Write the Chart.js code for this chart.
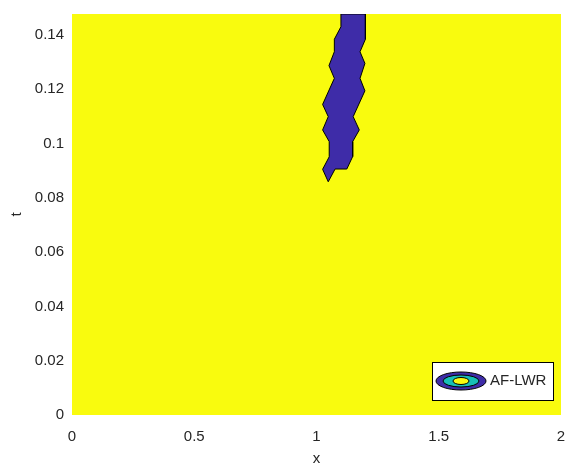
<!DOCTYPE html>
<html>
<head>
<meta charset="utf-8">
<script src="https://cdn.jsdelivr.net/npm/chart.js@4.4.1/dist/chart.umd.min.js"></script>
<style>
  html, body { margin: 0; padding: 0; background: #fff; }
</style>
</head>
<body>
<canvas id="chart" width="580" height="470"></canvas>
<script>
// axis ranges and ticks
const xTicks = [0, 0.5, 1, 1.5, 2]
const tTicks = [0, 0.02, 0.04, 0.06, 0.08, 0.1, 0.12, 0.14]
const xMax = 2
const tMax = 0.1477

// lower contour level (fills the whole domain)
const baseX = [0, 2]
const baseT = [0.1477, 0.1477]

// upper contour level, outline traced clockwise from the top
const bandX = [1.1, 1.2, 1.2, 1.178, 1.198, 1.178, 1.198, 1.15, 1.175, 1.148, 1.148, 1.124, 1.076, 1.048,
  1.025, 1.052, 1.052, 1.025, 1.048, 1.025, 1.073, 1.051, 1.073, 1.073, 1.1, 1.1]
const bandT = [0.1477, 0.1477, 0.1384, 0.1338, 0.1295, 0.124, 0.1194, 0.1099, 0.105, 0.1007, 0.0952, 0.0906, 0.0906, 0.0859,
  0.0905, 0.0951, 0.1007, 0.105, 0.1099, 0.1144, 0.124, 0.1287, 0.1338, 0.1384, 0.143, 0.1477]

const seriesName = "AF-LWR"

const FONT = "'Liberation Sans', Arial, Helvetica, sans-serif"
const TEXT = "#262626"
const YELLOW = "#f9fb0e"
const BLUE = "#3e2ca8"
const CYAN = "#17bfb6"

// legend box drawn inside the plot area (bottom right)
const contourLegend = {
  id: "contourLegend",
  afterDatasetsDraw(chart) {
    const { ctx, chartArea } = chart
    const w = 121, h = 38
    const x = chartArea.right - 8 - w
    const y = chartArea.bottom - 15 - h
    ctx.save()
    ctx.fillStyle = "#fff"
    ctx.fillRect(x, y, w, h)
    ctx.strokeStyle = "#000"
    ctx.lineWidth = 1
    ctx.strokeRect(x + 0.5, y + 0.5, w, h)

    const cx = x + 29, cy = y + 19
    const rings = [[25, 9, BLUE], [18, 6, CYAN], [8, 3.5, YELLOW]]
    rings.forEach(([rx, ry, col]) => {
      ctx.beginPath()
      ctx.ellipse(cx, cy, rx, ry, 0, 0, Math.PI * 2)
      ctx.fillStyle = col
      ctx.fill()
      ctx.strokeStyle = "#000"
      ctx.stroke()
    })

    ctx.fillStyle = TEXT
    ctx.font = "15px " + FONT
    ctx.textBaseline = "middle"
    ctx.fillText(chart.data.datasets[1].label, x + 58, cy)
    ctx.restore()
  }
}

new Chart(document.getElementById("chart"), {
  type: "scatter",
  data: {
    datasets: [
      {
        label: "level 1",
        data: baseX.map((x, i) => ({ x, y: baseT[i] })),
        order: 2,
        showLine: true,
        borderWidth: 0,
        borderColor: YELLOW,
        backgroundColor: YELLOW,
        pointRadius: 0,
        fill: "origin"
      },
      {
        label: seriesName,
        data: bandX.map((x, i) => ({ x, y: bandT[i] })),
        order: 1,
        showLine: true,
        borderWidth: 1,
        borderColor: "#000",
        backgroundColor: BLUE,
        pointRadius: 0,
        tension: 0,
        fill: "shape"
      }
    ]
  },
  options: {
    responsive: false,
    animation: false,
    devicePixelRatio: 1,
    layout: {
      padding: { left: 0, top: 14, right: 19, bottom: 0 }
    },
    plugins: {
      legend: { display: false },
      tooltip: { enabled: false }
    },
    scales: {
      x: {
        type: "linear",
        min: 0,
        max: xMax,
        grid: { display: false, drawTicks: false },
        border: { display: false },
        afterBuildTicks: s => { s.ticks = xTicks.map(v => ({ value: v })) },
        afterFit: s => { s.height = 55; s.paddingLeft = 0; s.paddingRight = 0 },
        ticks: {
          color: TEXT,
          padding: 13,
          font: { family: FONT, size: 15 },
          callback: v => String(v)
        },
        title: {
          display: true,
          text: "x",
          color: TEXT,
          padding: 2,
          font: { family: FONT, size: 15 }
        }
      },
      y: {
        type: "linear",
        min: 0,
        max: tMax,
        grid: { display: false, drawTicks: false },
        border: { display: false },
        afterBuildTicks: s => { s.ticks = tTicks.map(v => ({ value: v })) },
        afterFit: s => { s.width = 72; s.paddingTop = 0; s.paddingBottom = 0 },
        ticks: {
          color: TEXT,
          padding: 8,
          font: { family: FONT, size: 15 },
          callback: v => String(v)
        },
        title: {
          display: true,
          text: "t",
          color: TEXT,
          padding: 8,
          font: { family: FONT, size: 15 }
        }
      }
    }
  },
  plugins: [contourLegend]
})
</script>
</body>
</html>
